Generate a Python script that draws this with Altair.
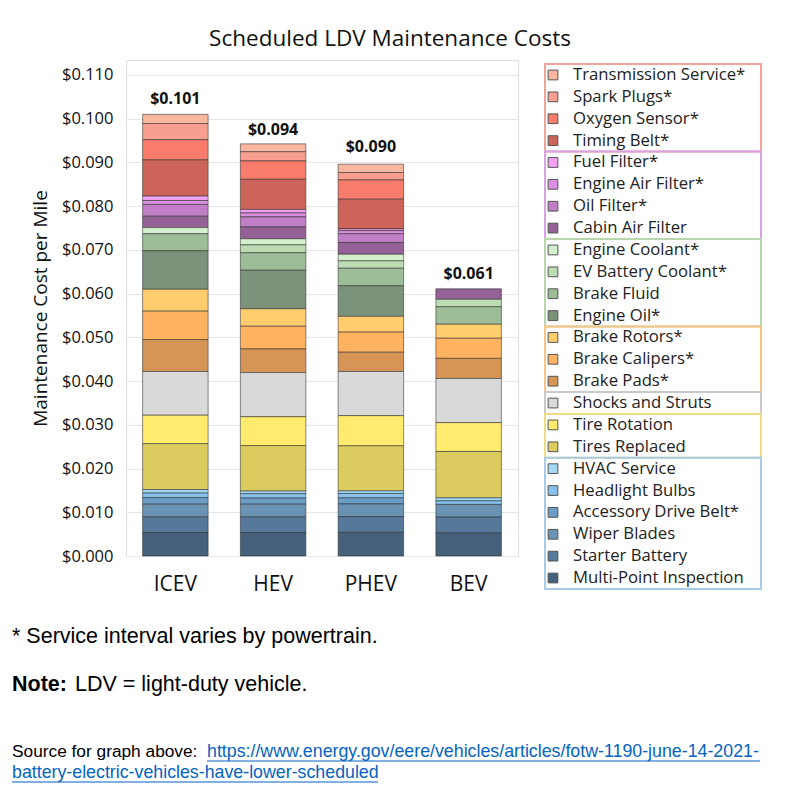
import altair as alt
import pandas as pd

vehicles = ["ICEV", "HEV", "PHEV", "BEV"]
totals = [0.101, 0.094, 0.090, 0.061]

items = [
    "Transmission Service*", "Spark Plugs*", "Oxygen Sensor*", "Timing Belt*",
    "Fuel Filter*", "Engine Air Filter*", "Oil Filter*", "Cabin Air Filter",
    "Engine Coolant*", "EV Battery Coolant*", "Brake Fluid", "Engine Oil*",
    "Brake Rotors*", "Brake Calipers*", "Brake Pads*",
    "Shocks and Struts",
    "Tire Rotation", "Tires Replaced",
    "HVAC Service", "Headlight Bulbs", "Accessory Drive Belt*", "Wiper Blades",
    "Starter Battery", "Multi-Point Inspection",
]
item_colors = [
    "#f9b7a0", "#f99f8f", "#f87b6c", "#cc6459",
    "#f2a2f2", "#dc8ee0", "#c07fc6", "#946296",
    "#d5f0cd", "#bcdcb4", "#9dbd98", "#7a927a",
    "#ffcd6e", "#ffb25f", "#d69556",
    "#d9d9d9",
    "#ffec6e", "#dccb5e",
    "#a4d8f6", "#86c2ec", "#6c9dc6", "#6a92b3",
    "#56789a", "#44607a",
]

icev = [0.0021, 0.0037, 0.0046, 0.0083, 0.0010, 0.0009, 0.0027, 0.0026,
        0.0014, 0.0000, 0.0039, 0.0088, 0.0050, 0.0065, 0.0073, 0.0100,
        0.0065, 0.0105, 0.0008, 0.00105, 0.0015, 0.0029, 0.0036, 0.00535]
hev = [0.0018, 0.0021, 0.0042, 0.0069, 0.0008, 0.0009, 0.0023, 0.0027,
       0.0014, 0.0018, 0.0040, 0.0088, 0.0040, 0.0052, 0.0054, 0.0101,
       0.0066, 0.0104, 0.0006, 0.0010, 0.0014, 0.0029, 0.0036, 0.00535]
phev = [0.0019, 0.0017, 0.0044, 0.0068, 0.0004, 0.0007, 0.0020, 0.0027,
        0.0015, 0.0017, 0.0040, 0.0070, 0.0036, 0.0046, 0.0044, 0.0101,
        0.0069, 0.0103, 0.0006, 0.0010, 0.0014, 0.0029, 0.0036, 0.0054]
bev = [0.0000, 0.0000, 0.0000, 0.0000, 0.0000, 0.0000, 0.0000, 0.0024,
       0.0000, 0.0017, 0.0040, 0.0000, 0.0032, 0.0046, 0.0046, 0.0101,
       0.0066, 0.0106, 0.0007, 0.0008, 0.0000, 0.0029, 0.0036, 0.0053]

group_first = [0, 4, 8, 12, 15, 16, 18]
group_last = [3, 7, 11, 14, 15, 17, 23]
group_colors = ["#f2a39a", "#d9a3e3", "#b7d6ab", "#fbc487", "#c9c9c9", "#eedc85", "#a6cbe8"]

y_ticks = [0.0, 0.01, 0.02, 0.03, 0.04, 0.05, 0.06, 0.07, 0.08, 0.09, 0.10, 0.11]

footnote = "* Service interval varies by powertrain."
note_bold = "Note:"
note_text = "LDV = light-duty vehicle."
source_label = "Source for graph above:"
link_line1 = "https://www.energy.gov/eere/vehicles/articles/fotw-1190-june-14-2021-"
link_line2 = "battery-electric-vehicles-have-lower-scheduled"

# ---- build tables ----
rows = []
for v, vals in zip(vehicles, [icev, hev, phev, bev]):
    for i, (it, val) in enumerate(zip(items, vals)):
        if val > 0:
            rows.append({"vehicle": v, "item": it, "cost": val, "ord": len(items) - 1 - i})
df = pd.DataFrame(rows)
tot_df = pd.DataFrame({"vehicle": vehicles, "total": totals})
leg_df = pd.DataFrame({"item": items, "idx": list(range(len(items)))})
grp_df = pd.DataFrame({"first": group_first, "last": group_last, "gcolor": group_colors})

FONT = "Open Sans"
W, H = 392, 496
ROW = 21.87
Y_DOMAIN_MAX = 0.11343

color_scale = alt.Scale(domain=items, range=item_colors)
x_enc = alt.X("vehicle:N", sort=vehicles, title=None,
              scale=alt.Scale(paddingInner=0.33, paddingOuter=0.17),
              axis=alt.Axis(labelAngle=0, labelFontSize=21, labelFont=FONT, labelColor="#111",
                            ticks=False, labelPadding=17, domain=False))
y_scale = alt.Scale(domain=[0, Y_DOMAIN_MAX], nice=False, zero=True)

bars = alt.Chart(df).mark_bar(stroke="#2b2b2b", strokeWidth=1, strokeOpacity=0.55).encode(
    x=x_enc,
    y=alt.Y("sum(cost):Q", scale=y_scale, title="Maintenance Cost per Mile",
            axis=alt.Axis(values=y_ticks, format="$.3f", labelFontSize=16.5, labelFont=FONT,
                          labelColor="#111", ticks=False, labelPadding=13, domain=False,
                          gridColor="#e6e6e6", titleFontSize=19, titleFont=FONT,
                          titleFontWeight="normal", titleColor="#111", titlePadding=11)),
    color=alt.Color("item:N", scale=color_scale, legend=None),
    order=alt.Order("ord:Q", sort="ascending"),
)

labels = alt.Chart(tot_df).mark_text(baseline="bottom", dy=-7, fontSize=16, fontWeight="bold",
                                     font=FONT, color="#111").encode(
    x=alt.X("vehicle:N", sort=vehicles),
    y=alt.Y("total:Q", scale=y_scale),
    text=alt.Text("total:Q", format="$.3f"),
)

main = alt.layer(bars, labels)

# ---- custom grouped legend ----
leg_base = alt.Chart(leg_df).transform_calculate(py=f"15 + datum.idx * {ROW}")
leg_sq = leg_base.mark_square(size=95, stroke="#555", strokeWidth=1, opacity=1).encode(
    x=alt.value(427),
    y=alt.Y("py:Q", scale=None, axis=None),
    color=alt.Color("item:N", scale=color_scale, legend=None),
)
leg_txt = leg_base.mark_text(align="left", baseline="middle", fontSize=16.7, font=FONT,
                             color="#222").encode(
    x=alt.value(447),
    y=alt.Y("py:Q", scale=None, axis=None),
    text="item:N",
)
leg_box = alt.Chart(grp_df).transform_calculate(
    y1=f"15 + datum.first * {ROW} - {ROW/2}",
    y2=f"15 + datum.last * {ROW} + {ROW/2}",
).mark_rect(fill="transparent", strokeWidth=2).encode(
    x=alt.value(419), x2=alt.value(635),
    y=alt.Y("y1:Q", scale=None, axis=None), y2="y2:Q",
    stroke=alt.Stroke("gcolor:N", scale=None, legend=None),
)

# ---- footnotes ----
def txt(s, x, y, size=18, weight="normal", color="#000", font="Liberation Sans"):
    return alt.Chart(pd.DataFrame({"t": [s]})).mark_text(
        align="left", baseline="middle", fontSize=size, fontWeight=weight, font=font, color=color
    ).encode(text="t:N", x=alt.value(x), y=alt.value(y))

LINK = "#0563c1"
foot = [
    txt(footnote, -114, 577, 21.5),
    txt(note_bold, -114, 625, 21.5, "bold"),
    txt(note_text, -51, 625, 21.5),
    txt(source_label, -114, 692, 17.3),
    txt(link_line1, 81, 692, 17.8, color=LINK),
    txt(link_line2, -114, 713, 17.8, color=LINK),
]
underlines = [
    alt.Chart(pd.DataFrame({"t": [0]})).mark_rule(color=LINK, strokeWidth=1).encode(
        x=alt.value(81), x2=alt.value(634), y=alt.value(701)),
    alt.Chart(pd.DataFrame({"t": [0]})).mark_rule(color=LINK, strokeWidth=1).encode(
        x=alt.value(-114), x2=alt.value(252), y=alt.value(722)),
]

chart = alt.layer(main, leg_box, leg_sq, leg_txt, *foot, *underlines).resolve_scale(
    x="independent", y="independent"
).properties(
    width=W, height=H,
    title=alt.TitleParams("Scheduled LDV Maintenance Costs", fontSize=22.5, font=FONT,
                          fontWeight="normal", color="#111", anchor="middle", frame="group",
                          dx=68, offset=10),
    autosize=alt.AutoSizeParams(type="none"),
    padding={"left": 118, "top": 52, "right": 260, "bottom": 232},
).configure_view(stroke="#444", strokeWidth=1.5).configure(background="white")

chart.save("out.html", embed_options={"renderer": "svg", "actions": False})
